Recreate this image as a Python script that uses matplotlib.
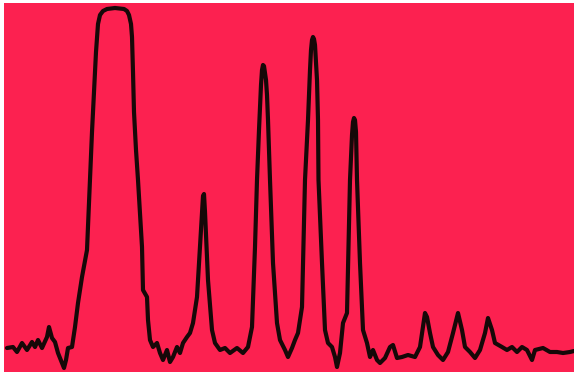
import matplotlib
matplotlib.use("Agg")
import matplotlib.pyplot as plt

# trace (time units, detector response)
time = [7, 13, 17, 22, 27, 32, 35, 38, 42, 47, 49, 52, 55, 58, 62, 64, 66, 68, 72, 75,
        78, 80, 82, 87, 90, 92, 94, 96, 98, 100, 103, 107, 115, 124, 127, 129, 131, 132,
        133, 134, 136, 138, 142, 143,
        147, 148, 150, 153, 157, 160, 163, 167, 170, 173, 177, 180, 183, 187, 190, 193,
        197, 200, 202, 203, 204, 205, 208, 212, 215, 220, 225, 230, 237, 243, 248, 252,
        255, 257, 259, 261, 262, 263, 264, 266, 267, 268, 270, 273, 277, 280, 285, 288,
        292, 295, 298, 302, 305, 308, 310, 311, 312, 313, 314, 315, 316, 317, 318, 318.5,
        322, 325, 328, 332, 335, 337, 340, 343, 347, 350, 352, 353, 354, 355, 356, 357,
        360, 363, 367, 370, 373, 377, 380,
        385, 390, 393, 397, 402, 408, 415, 420, 423, 425, 427, 430, 433, 438, 443, 448,
        453, 458, 462, 465, 470, 475, 480, 485, 488, 492, 495, 502, 507, 512, 517, 522,
        527, 532, 535, 543, 550, 557, 563, 570, 574]
response = [24, 25, 20, 29, 22, 30, 25, 32, 24, 35, 45, 34, 30, 19, 9, 4, 12, 24, 25, 45,
            69, 82, 95, 122, 192, 240, 280, 320, 348, 357, 361, 363, 364, 363, 361, 357, 348, 335,
            300, 260, 222, 192, 125, 82,
            75, 52, 32, 25, 29, 19, 12, 22, 10, 15, 25, 19, 29, 35, 39, 49,
            75, 125, 157, 176, 178, 160, 92, 42, 29, 22, 24, 19, 24, 19, 25, 45,
            125, 192, 242, 287, 302, 307, 306, 292, 277, 252, 192, 109, 49, 32, 22, 15,
            24, 32, 39, 65, 192, 252, 302, 322, 332, 335, 333, 327, 310, 292, 252, 192,
            109, 42, 29, 25, 15, 5, 19, 49, 59, 192, 237, 250, 254, 252, 240, 192,
            109, 42, 29, 15, 22, 12, 9,
            14, 25, 27, 14, 15, 17, 15, 25, 45, 59, 55, 39, 25, 17, 12, 20,
            39, 59, 42, 25, 20, 14, 22, 39, 54, 42, 29, 25, 22, 25, 20, 25,
            22, 12, 22, 24, 20, 20, 19, 20, 21]

fig = plt.figure(figsize=(5.74, 3.72), dpi=100, facecolor="white")
ax = fig.add_axes([4 / 574, 0, 570 / 574, 369 / 372])
ax.set_facecolor("#fc2150")
ax.plot(time, response, color="#160808", linewidth=3.0, solid_joinstyle="round",
        solid_capstyle="round")
ax.set_xlim(4, 574)
ax.set_ylim(0, 369)
ax.set_xticks([])
ax.set_yticks([])
for s in ax.spines.values():
    s.set_visible(False)

fig.savefig("out.png", dpi=100, facecolor="white")
